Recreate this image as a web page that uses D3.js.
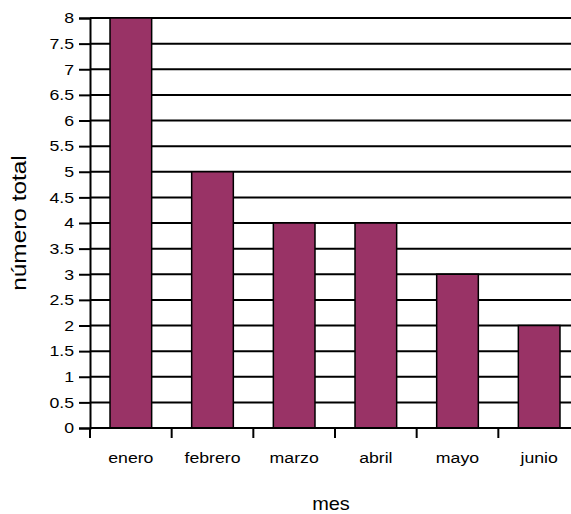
<!DOCTYPE html>
<html>
<head>
<meta charset="utf-8">
<script src="https://cdn.jsdelivr.net/npm/d3@7"></script>
<style>
  body { margin: 0; background: #fff; }
  svg { display: block; font-family: "Liberation Sans", Arial, sans-serif; }
</style>
</head>
<body>
<div id="chart"></div>
<script>
// datos del gráfico
const meses = ["enero", "febrero", "marzo", "abril", "mayo", "junio"];
const totales = [8, 5, 4, 4, 3, 2];
const yTicks = [0, 0.5, 1, 1.5, 2, 2.5, 3, 3.5, 4, 4.5, 5, 5.5, 6, 6.5, 7, 7.5, 8];

const width = 571, height = 514;
const margin = { top: 18, left: 90, bottom: 86, right: -9 };
const stretch = 1.18; // el texto original aparece algo ensanchado

const svg = d3.select("#chart").append("svg")
    .attr("width", width)
    .attr("height", height);

const x = d3.scaleBand()
    .domain(meses)
    .range([margin.left, width - margin.right])
    .paddingInner(0.49)
    .paddingOuter(0.245);

const y = d3.scaleLinear()
    .domain([0, 8])
    .range([height - margin.bottom, margin.top]);

// líneas de cuadrícula
svg.append("g")
    .selectAll("line")
    .data(yTicks)
    .join("line")
    .attr("x1", margin.left)
    .attr("x2", width)
    .attr("y1", d => y(d))
    .attr("y2", d => y(d))
    .attr("stroke", "#000")
    .attr("stroke-width", 2);

// barras
svg.append("g")
    .selectAll("rect")
    .data(totales)
    .join("rect")
    .attr("x", (d, i) => x(meses[i]))
    .attr("y", d => y(d))
    .attr("width", x.bandwidth())
    .attr("height", d => y(0) - y(d))
    .attr("fill", "#993366")
    .attr("stroke", "#000")
    .attr("stroke-width", 1.5);

// eje Y
const yAxis = svg.append("g")
    .attr("transform", `translate(${margin.left},0)`)
    .call(d3.axisLeft(y).tickValues(yTicks).tickSize(11).tickPadding(5).tickFormat(d3.format("")));
yAxis.select(".domain").attr("stroke-width", 2);
yAxis.selectAll(".tick line").attr("stroke-width", 2);
yAxis.selectAll("text")
    .attr("font-size", 15)
    .attr("fill", "#000")
    .attr("x", -16 / stretch)
    .attr("transform", `scale(${stretch},1)`);

// eje X
const xTickPos = meses.map((m, i) => margin.left + i * x.step());
const xAxis = svg.append("g")
    .attr("transform", `translate(0,${y(0)})`);
xAxis.append("line")
    .attr("x1", margin.left).attr("x2", width)
    .attr("stroke", "#000").attr("stroke-width", 2);
xAxis.selectAll(".tk")
    .data(xTickPos)
    .join("line")
    .attr("class", "tk")
    .attr("x1", d => d).attr("x2", d => d)
    .attr("y1", 0).attr("y2", 10)
    .attr("stroke", "#000").attr("stroke-width", 2);
xAxis.selectAll("text")
    .data(meses)
    .join("text")
    .attr("transform", d => `translate(${x(d) + x.bandwidth() / 2},35) scale(${stretch},1)`)
    .attr("text-anchor", "middle")
    .attr("font-size", 15)
    .text(d => d);

// títulos
svg.append("text")
    .attr("transform", "translate(331,510) scale(1.05,1)")
    .attr("text-anchor", "middle")
    .attr("font-size", 19)
    .text("mes");

svg.append("text")
    .attr("transform", `translate(26,${(y(0) + y(8)) / 2}) rotate(-90) scale(1.22,1)`)
    .attr("text-anchor", "middle")
    .attr("font-size", 20)
    .text("número total");
</script>
</body>
</html>
